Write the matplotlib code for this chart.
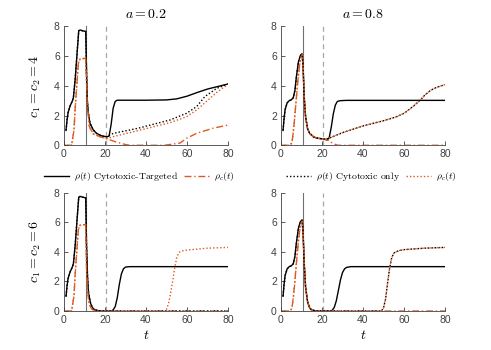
import numpy as np
import matplotlib
matplotlib.use("Agg")
import matplotlib.pyplot as plt

plt.rcParams["mathtext.fontset"] = "cm"
plt.rcParams["font.family"] = ["Liberation Sans", "DejaVu Sans"]

ORANGE = "#DC5A22"
GREY = "#404040"

# treatment switch times (vertical markers)
t_switch1 = 10.5
t_switch2 = 20.5

# ---- a = 0.2, c1 = c2 = 4 ----
tl_t_rho = [1, 1.5, 2, 3, 4, 4.6, 5.5, 6.5, 7.2, 8, 9, 10.6, 11, 11.4, 11.9, 12.7,
            14.3, 15.9, 18.4, 21, 22, 23, 24, 25, 26, 30, 40, 50, 55, 60, 65, 70, 75, 80]
tl_rho = [1.0, 1.7, 2.2, 2.65, 2.95, 3.2, 4.5, 6.4, 7.7, 7.75, 7.7, 7.65, 5.0, 3.0, 2.15, 1.48,
          1.03, 0.8, 0.63, 0.57, 0.62, 1.4, 2.5, 2.95, 3.03, 3.03, 3.03, 3.05, 3.12, 3.3, 3.55, 3.78, 3.95, 4.12]
tl_t_rhoc = [0, 3.7, 4.9, 5.4, 6.2, 7.0, 7.8, 10.6, 11.4, 12.4, 14.3, 17.5, 21, 25, 30,
             32, 49, 56.6, 59.8, 64.7, 72.5, 80]
tl_rhoc = [0, 0, 1.03, 2.37, 3.94, 5.5, 5.8, 5.85, 2.8, 1.25, 0.76, 0.58, 0.44, 0.24, 0.05,
           0, 0, 0.15, 0.47, 0.8, 1.14, 1.36]
tl_t_cyto = [21, 24, 36, 51.7, 59.8, 64.7, 68.7, 74.5, 80]
tl_rho_cyto = [0.57, 0.8, 1.14, 1.7, 2.15, 2.6, 3.27, 3.83, 4.12]
tl_rhoc_cyto = [0.44, 0.58, 0.98, 1.52, 1.92, 2.37, 2.85, 3.55, 4.1]

# ---- a = 0.8, c1 = c2 = 4 ----
tr_t_rho = [1, 1.5, 2, 3, 4, 5, 6, 6.8, 7.5, 8.5, 9.5, 10.3, 10.8, 11.3, 12, 13, 14, 16, 18,
            21, 22.5, 23.5, 24.5, 25.5, 26.5, 27.5, 29, 32, 40, 60, 80]
tr_rho = [1.0, 1.8, 2.4, 2.85, 3.0, 3.05, 3.2, 3.7, 4.6, 5.6, 6.05, 6.15, 5.2, 3.3, 1.9, 1.1, 0.8,
          0.55, 0.47, 0.42, 0.35, 0.5, 1.2, 2.1, 2.7, 2.95, 3.0, 3.02, 3.02, 3.02, 3.02]
tr_t_rhoc = [0, 4, 5, 5.5, 6, 6.5, 7, 7.5, 8, 8.5, 9, 9.5, 10.3, 10.8, 11.3, 12, 13, 14, 16, 18,
             21, 23, 25, 27, 28, 40, 60, 80]
tr_rhoc = [0, 0, 0.1, 0.35, 0.9, 1.6, 2.4, 3.2, 4.0, 4.7, 5.3, 5.8, 6.1, 5.2, 3.3, 1.9, 1.1, 0.8,
           0.55, 0.47, 0.42, 0.35, 0.15, 0.03, 0, 0, 0, 0]
tr_t_cyto = [21, 23, 30, 40, 50, 56, 60, 63, 66, 68, 70, 73, 76, 80]
tr_rho_cyto = [0.42, 0.45, 0.85, 1.3, 1.65, 1.9, 2.15, 2.45, 2.8, 3.05, 3.35, 3.7, 3.9, 4.08]
tr_rhoc_cyto = tr_rho_cyto

# ---- a = 0.2, c1 = c2 = 6 ----
bl_t_rho = [1, 1.5, 2, 3, 4, 4.6, 5.5, 6.5, 7.2, 8, 9, 10.6, 11, 11.5, 12, 13, 14, 15, 17,
            20, 23, 24, 25, 26, 27, 28, 29, 30, 32, 40, 80]
bl_rho = [1.0, 1.7, 2.2, 2.65, 2.95, 3.2, 4.5, 6.4, 7.7, 7.75, 7.7, 7.65, 4.5, 2.3, 1.2, 0.5,
          0.2, 0.08, 0.02, 0, 0, 0.08, 0.3, 0.9, 1.8, 2.5, 2.85, 2.97, 3.0, 3.0, 3.0]
bl_t_rhoc = [0, 3.7, 4.9, 5.4, 6.2, 7.0, 7.8, 10.6, 11, 11.5, 12, 13, 14, 16, 80]
bl_rhoc = [0, 0, 1.03, 2.37, 3.94, 5.5, 5.8, 5.85, 3.0, 1.5, 0.7, 0.25, 0.08, 0, 0]
bl_t_cyto = [21, 49, 50, 51, 52, 53, 54, 55, 56, 57, 60, 70, 80]
bl_rho_cyto = [0, 0, 0, 0, 0, 0, 0, 0, 0, 0, 0, 0, 0]
bl_rhoc_cyto = [0, 0, 0.1, 0.5, 1.2, 2.0, 2.9, 3.6, 3.95, 4.05, 4.12, 4.25, 4.3]

# ---- a = 0.8, c1 = c2 = 6 ----
br_t_rho = [1, 1.5, 2, 3, 4, 5, 6, 6.8, 7.5, 8.5, 9.5, 10.3, 10.8, 11.3, 12, 13, 14, 15, 17,
            20, 24, 25, 26, 27, 28, 29, 30, 31, 32, 34, 80]
br_rho = [1.0, 1.8, 2.4, 2.85, 3.0, 3.05, 3.2, 3.7, 4.6, 5.6, 6.05, 6.15, 5.2, 3.3, 1.6, 0.6,
          0.2, 0.07, 0.01, 0, 0, 0.05, 0.25, 0.7, 1.4, 2.1, 2.6, 2.85, 2.95, 3.0, 3.0]
br_t_rhoc = [0, 4, 5, 5.5, 6, 6.5, 7, 7.5, 8, 8.5, 9, 9.5, 10.3, 10.8, 11.3, 12, 13, 14, 15, 17, 80]
br_rhoc = [0, 0, 0.1, 0.35, 0.9, 1.6, 2.4, 3.2, 4.0, 4.7, 5.3, 5.8, 6.1, 5.2, 3.3, 1.6, 0.6,
           0.2, 0.05, 0, 0]
br_t_cyto = [21, 49, 50, 51, 52, 53, 54, 55, 56, 58, 60, 70, 80]
br_rho_cyto = [0, 0, 0.2, 0.8, 1.9, 2.9, 3.6, 3.9, 4.0, 4.1, 4.15, 4.25, 4.3]
br_rhoc_cyto = br_rho_cyto

panels = [
    (tl_t_rho, tl_rho, tl_t_rhoc, tl_rhoc, tl_t_cyto, tl_rho_cyto, tl_rhoc_cyto),
    (tr_t_rho, tr_rho, tr_t_rhoc, tr_rhoc, tr_t_cyto, tr_rho_cyto, tr_rhoc_cyto),
    (bl_t_rho, bl_rho, bl_t_rhoc, bl_rhoc, bl_t_cyto, bl_rho_cyto, bl_rhoc_cyto),
    (br_t_rho, br_rho, br_t_rhoc, br_rhoc, br_t_cyto, br_rho_cyto, br_rhoc_cyto),
]
titles = [r"$a = 0.2$", r"$a = 0.8$"]
row_labels = [r"$c_1 = c_2 = 4$", r"$c_1 = c_2 = 6$"]

fig = plt.figure(figsize=(4.91, 3.5), dpi=100)
positions = [
    [0.1303, 0.5849, 0.334, 0.340],
    [0.5723, 0.5849, 0.334, 0.340],
    [0.1303, 0.1114, 0.334, 0.338],
    [0.5723, 0.1114, 0.334, 0.338],
]
axes = [fig.add_axes(p) for p in positions]

for i, (ax, data) in enumerate(zip(axes, panels)):
    t_rho, rho, t_rhoc, rhoc, t_cyto, rho_cyto, rhoc_cyto = data
    # cytotoxic-only curves coincide with the targeted ones up to the switch
    n_rho = sum(1 for t in t_rho if t < t_cyto[0])
    n_rhoc = sum(1 for t in t_rhoc if t < t_cyto[0])
    cyto_t_rho = list(t_rho[:n_rho]) + list(t_cyto)
    cyto_rho = list(rho[:n_rho]) + list(rho_cyto)
    cyto_t_rhoc = list(t_rhoc[:n_rhoc]) + list(t_cyto)
    cyto_rhoc = list(rhoc[:n_rhoc]) + list(rhoc_cyto)

    ax.axvline(t_switch1, color="#707070", lw=0.8, zorder=1)
    ax.axvline(t_switch2, color="#a8a8a8", lw=0.9, ls=(0, (4, 3)), zorder=1)

    l1, = ax.plot(t_rho, rho, color="black", lw=1.0, label=r"$\rho(t)$ Cytotoxic-Targeted")
    l2, = ax.plot(t_rhoc, rhoc, color=ORANGE, lw=1.0, ls=(0, (5, 2, 1, 2)), label=r"$\rho_c(t)$")
    l3, = ax.plot(cyto_t_rho, cyto_rho, color="black", lw=1.0, ls=(0, (1, 1.5)),
                  label=r"$\rho(t)$ Cytotoxic only")
    l4, = ax.plot(cyto_t_rhoc, cyto_rhoc, color=ORANGE, lw=1.0, ls=(0, (1, 1.5)), label=r"$\rho_c(t)$")

    ax.set_xlim(0, 80)
    ax.set_ylim(0, 8)
    ax.set_xticks([0, 20, 40, 60, 80])
    ax.set_yticks([0, 2, 4, 6, 8])
    ax.tick_params(direction="in", length=3, width=0.6, labelsize=7.5, colors=GREY, pad=3)
    for s in ["top", "right"]:
        ax.spines[s].set_visible(False)
    for s in ["left", "bottom"]:
        ax.spines[s].set_color(GREY)
        ax.spines[s].set_linewidth(0.6)

    if i < 2:
        ax.set_title(titles[i], fontsize=10, pad=6)
    else:
        ax.set_xlabel(r"$t$", fontsize=10, labelpad=2)
    if i % 2 == 0:
        ax.set_ylabel(row_labels[i // 2], fontsize=10, labelpad=8)

    if i == 2:
        ax.legend(handles=[l1, l2], loc="center", bbox_to_anchor=(0.46, 1.135), ncol=2,
                  frameon=False, prop={"family": "cmr10", "size": 7}, handlelength=2.6,
                  handletextpad=0.5, columnspacing=0.6, borderpad=0)
    if i == 3:
        ax.legend(handles=[l3, l4], loc="center", bbox_to_anchor=(0.55, 1.135), ncol=2,
                  frameon=False, prop={"family": "cmr10", "size": 7}, handlelength=2.6,
                  handletextpad=0.5, columnspacing=0.6, borderpad=0)

fig.savefig("out.png", dpi=100)
